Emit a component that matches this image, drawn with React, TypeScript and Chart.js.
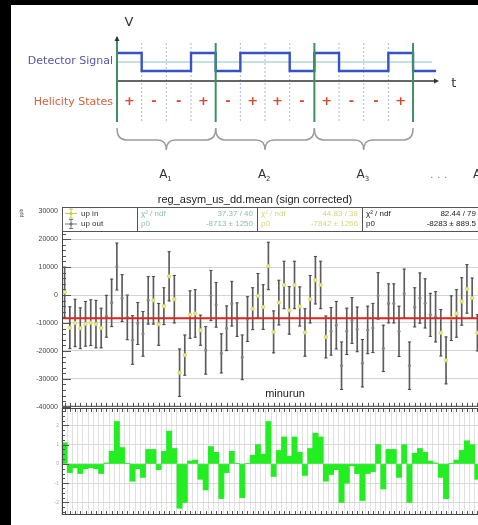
import React, { useEffect, useRef } from "react";
import { Chart, registerables } from "chart.js";

Chart.register(...registerables);

// ---------------- Helicity diagram data ----------------
const helicityStates = ["+", "-", "-", "+", "-", "+", "+", "-", "+", "-", "-", "+"];
const patternSubscripts = ["1", "2", "3"];
const windowsPerPattern = 4;

// ---------------- Main plot data ----------------
const plotTitle = "reg_asym_us_dd.mean (sign corrected)";
const xAxisTitle = "minurun";
const yAxisTitle = "ppb";
const yTickValues = [-40000, -30000, -20000, -10000, 0, 10000, 20000, 30000];

const asymValues = [
  1000, -11700, -10000, -11900, -10300, -9900, -10400, -11800, -7600, -2800,
  10200, -1100, -8000, -16100, -10200, -13900, -1900, -1900, -10500, -4000,
  6700, -1500, -27800, -21500, -7000, -6600, -12600, -19800, -200, -3500,
  -20900, -11900, -3100, -8800, -22300, -8600, -4900, -300, -4300, 10400,
  -13200, -2700, 3600, -5500, 3600, -4100, -13400, -1500, 5300, 3600,
  -15000, -13000, -10800, -25300, -13000, -9100, -12300, -24400, -12500, -11800,
  -300, -19100, -3000, -3000, -13000, 500, -25300, -4400, -1100, -3000,
  -7100, -7800, -13500, -23400, -8300, -6600, -2300, 2200, -1100, -13500,
];
const asymErrors = [
  9000, 7500, 8500, 7300, 8000, 8200, 8500, 7100, 7500, 8500,
  8400, 8400, 8000, 8700, 7500, 8000, 8500, 8500, 7500, 6600,
  8800, 8500, 8500, 7200, 8500, 8500, 5400, 8500, 9000, 8000,
  7000, 8000, 8000, 6000, 8000, 8000, 7500, 8000, 8000, 8500,
  7500, 8000, 8500, 8500, 8500, 7000, 8500, 8500, 8500, 8500,
  7500, 8500, 8500, 8500, 8300, 8200, 8000, 8500, 8500, 8800,
  8300, 8300, 7000, 7000, 9000, 8800, 8500, 7000, 9000, 8800,
  7700, 9000, 8300, 8400, 8000, 8500, 8500, 8700, 7200, 6500,
];
// I = "up in", O = "up out"
const slugGroups = [
  "IIIIIIII",
  "OOOOOOOOO",
  "IIIIIIIIII",
  "OOOOOOOOO",
  "IIIIIIIIIIIIIII",
  "OOOOOOOOOOOOOOOOOOOOO",
  "IIIIIIII",
].join("").split("");

const combinedP0 = -8283;
const legendLabels = ["up in", "up out"];
const statsIn = { chi2: "37.37 / 40", p0: "-8713 ± 1250" };
const statsOut = { chi2: "44.83 / 38", p0: "-7842 ± 1266" };
const statsAll = { chi2: "82.44 / 79", p0: "-8283 ± 889.5" };

// ---------------- Pull histogram data ----------------
const pullValues = [
  1.1, -0.45, -0.2, -0.5, -0.25, -0.2, -0.25, -0.5, 0.05, 0.65,
  2.2, 0.85, 0.03, -0.9, -0.25, -0.7, 0.75, 0.75, -0.3, 0.65,
  1.7, 0.8, -2.3, -2.0, 0.15, 0.2, -0.8, -1.35, 0.9, 0.6,
  -1.8, -0.45, 0.65, 0.03, -1.75, 0.03, 0.45, 1.0, 0.5, 2.2,
  -0.65, 0.7, 1.4, 0.4, 1.4, 0.6, -0.6, 0.8, 1.6, 1.4,
  -0.9, -0.55, -0.3, -2.0, -1.0, -0.1, -0.5, -1.9, -0.5, -0.4,
  1.0, -1.3, 0.75, 0.75, -0.7, 1.0, -2.0, 0.55, 0.8, 0.6,
  0.15, 0.05, -0.7, -1.8, 0.03, 0.2, 0.7, 1.2, 1.0, -0.8,
];
const pullTicks = [-2, -1, 0, 1, 2];

const runLabels = asymValues.map((_, i) => String(i + 1));

const ROOT_FONT = "'Liberation Sans', Arial, sans-serif";
const DIAG_FONT = "'DejaVu Sans', sans-serif";

// ---------------- Diagram chart ----------------
function diagramConfig(): any {
  const lvl = (s: string) => (s === "+" ? 1 : 0);
  const signal: any[] = helicityStates.map((s, i) => ({ x: i, y: lvl(s) }));
  signal.push({ x: helicityStates.length, y: 0 });
  signal.push({ x: 12.93, y: 0 });

  const datasets: any[] = [];
  for (let k = 0; k <= helicityStates.length; k += windowsPerPattern) {
    datasets.push({
      data: [{ x: k, y: k === 0 ? 1.89 : 1.556 }, { x: k, y: -2.83 }],
      borderColor: "#3f8f62", borderWidth: 2, showLine: true, pointRadius: 0, order: 1,
    });
  }
  datasets.push({
    data: signal, stepped: "before", borderColor: "#3553c4", borderWidth: 2.4,
    showLine: true, pointRadius: 0, order: 2,
  });
  datasets.push({
    data: [{ x: 0, y: -0.56 }, { x: 12.97, y: -0.56 }],
    borderColor: "#333", borderWidth: 1.5, showLine: true, pointRadius: 0, order: 3,
  });
  datasets.push({
    data: [{ x: 0, y: 0.5 }, { x: 12.77, y: 0.5 }],
    borderColor: "#8cc2c0", borderWidth: 1, showLine: true, pointRadius: 0, order: 4,
  });
  for (let u = 1; u < helicityStates.length; u++) {
    if (u % windowsPerPattern === 0) continue;
    datasets.push({
      data: [{ x: u, y: 1.556 }, { x: u, y: -2.83 }],
      borderColor: "#aab9d4", borderWidth: 1, borderDash: [2, 2],
      showLine: true, pointRadius: 0, order: 5,
    });
  }

  const decor = {
    id: "diagDecor",
    afterDraw(chart: any) {
      const { ctx } = chart;
      const X = (u: number) => chart.scales.x.getPixelForValue(u);
      const Y = (v: number) => chart.scales.y.getPixelForValue(v);
      ctx.save();
      ctx.fillStyle = "#333";
      ctx.beginPath();
      ctx.moveTo(X(0) - 2.5, Y(1.89) + 4);
      ctx.lineTo(X(0) + 2.5, Y(1.89) + 4);
      ctx.lineTo(X(0), Y(1.89) - 1);
      ctx.fill();
      ctx.beginPath();
      ctx.moveTo(X(12.97) - 3, Y(-0.56) - 2.5);
      ctx.lineTo(X(12.97) - 3, Y(-0.56) + 2.5);
      ctx.lineTo(X(12.97) + 2, Y(-0.56));
      ctx.fill();

      ctx.textBaseline = "middle";
      ctx.fillStyle = "#333";
      ctx.font = `13px ${DIAG_FONT}`;
      ctx.textAlign = "left";
      ctx.fillText("V", X(0.3), Y(2.67));
      ctx.fillText("t", X(13.55), Y(-0.68));

      ctx.textAlign = "right";
      ctx.font = `11px ${DIAG_FONT}`;
      ctx.fillStyle = "#5656a6";
      ctx.fillText("Detector Signal", X(-0.16), Y(0.56));
      ctx.fillStyle = "#d4623c";
      ctx.fillText("Helicity States", X(-0.16), Y(-1.72));

      ctx.textAlign = "center";
      ctx.fillStyle = "#d9482c";
      ctx.font = `bold 13px ${DIAG_FONT}`;
      helicityStates.forEach((s, i) => {
        ctx.fillText(s, X(i + 0.5), Y(-1.72));
      });

      ctx.strokeStyle = "#9a9a9a";
      ctx.lineWidth = 1.4;
      for (let p = 0; p < patternSubscripts.length; p++) {
        const x1 = X(p * windowsPerPattern), x2 = X((p + 1) * windowsPerPattern);
        const xc = (x1 + x2) / 2;
        const yt = Y(-3.17), ym = Y(-3.83), yp = Y(-4.39);
        const r = 9;
        ctx.beginPath();
        ctx.moveTo(x1, yt);
        ctx.quadraticCurveTo(x1, ym, x1 + r, ym);
        ctx.lineTo(xc - r, ym);
        ctx.quadraticCurveTo(xc, ym, xc, yp);
        ctx.quadraticCurveTo(xc, ym, xc + r, ym);
        ctx.lineTo(x2 - r, ym);
        ctx.quadraticCurveTo(x2, ym, x2, yt);
        ctx.stroke();
      }

      ctx.fillStyle = "#333";
      patternSubscripts.forEach((sub, p) => {
        const cx = X(p * windowsPerPattern + 2) - 3;
        ctx.font = `12px ${DIAG_FONT}`;
        ctx.textAlign = "center";
        ctx.fillText("A", cx, Y(-5.78));
        ctx.font = `7px ${DIAG_FONT}`;
        ctx.textAlign = "left";
        ctx.fillText(sub, cx + 4, Y(-5.78) + 4);
      });
      ctx.font = `11px ${DIAG_FONT}`;
      ctx.textAlign = "left";
      ctx.fillStyle = "#888";
      ctx.fillText(". . .", X(12.69), Y(-5.78));
      ctx.fillStyle = "#333";
      ctx.font = `12px ${DIAG_FONT}`;
      ctx.fillText("A", X(14.43), Y(-5.78));
      ctx.restore();
    },
  };

  return {
    type: "scatter",
    data: { datasets },
    options: {
      responsive: false, animation: false, devicePixelRatio: 1,
      layout: { padding: 0 },
      plugins: { legend: { display: false }, tooltip: { enabled: false } },
      scales: {
        x: { type: "linear", min: -4.743, max: 14.633, display: false },
        y: { type: "linear", min: -6.611, max: 3.944, display: false },
      },
    },
    plugins: [decor],
  };
}

// ---------------- Main asymmetry chart ----------------
function mainConfig(): any {
  const lo = asymValues.map((v, i) => v - asymErrors[i]);
  const hi = asymValues.map((v, i) => v + asymErrors[i]);
  const inVals = asymValues.map((v, i) => (slugGroups[i] === "I" ? v : null));
  const outVals = asymValues.map((v, i) => (slugGroups[i] === "O" ? v : null));

  const decor = {
    id: "mainDecor",
    afterDatasetsDraw(chart: any) {
      const { ctx, chartArea: a } = chart;
      const yp = chart.scales.y.getPixelForValue(combinedP0);
      ctx.save();
      ctx.strokeStyle = "#e3221b";
      ctx.lineWidth = 2;
      ctx.beginPath();
      ctx.moveTo(a.left, yp);
      ctx.lineTo(a.right, yp);
      ctx.stroke();
      ctx.restore();
    },
    afterDraw(chart: any) {
      const { ctx, chartArea: a } = chart;
      const ys = chart.scales.y, xs = chart.scales.x;
      ctx.save();
      ctx.strokeStyle = "#555";
      ctx.lineWidth = 1;
      for (let v = -40000; v <= 30000; v += 2000) {
        const yy = Math.round(ys.getPixelForValue(v)) + 0.5;
        const len = v % 10000 === 0 ? 9 : 4;
        ctx.beginPath();
        ctx.moveTo(a.left, yy);
        ctx.lineTo(a.left + len, yy);
        ctx.stroke();
      }
      runLabels.forEach((_, i) => {
        const xx = Math.round(xs.getPixelForValue(i)) + 0.5;
        ctx.beginPath();
        ctx.moveTo(xx, a.bottom);
        ctx.lineTo(xx, a.bottom - 4);
        ctx.stroke();
      });
      ctx.strokeStyle = "#444";
      ctx.strokeRect(a.left + 0.5, a.top + 0.5, a.width - 1, a.height - 1);

      const widths = [75, 120, 105, 118];
      const bh = 24;
      let bx = a.left;
      const boxX: number[] = [];
      widths.forEach((w) => {
        boxX.push(bx);
        ctx.fillStyle = "#fff";
        ctx.fillRect(bx, a.top, w, bh);
        ctx.strokeStyle = "#555";
        ctx.strokeRect(bx + 0.5, a.top + 0.5, w, bh);
        bx += w;
      });
      const r1 = a.top + 6.5, r2 = a.top + 17;
      const icon = (cx: number, cy: number, col: string) => {
        ctx.strokeStyle = col;
        ctx.fillStyle = col;
        ctx.lineWidth = 1;
        ctx.beginPath();
        ctx.moveTo(cx - 6, cy); ctx.lineTo(cx + 6, cy);
        ctx.moveTo(cx, cy - 4.5); ctx.lineTo(cx, cy + 4.5);
        ctx.moveTo(cx - 2, cy - 4.5); ctx.lineTo(cx + 2, cy - 4.5);
        ctx.moveTo(cx - 2, cy + 4.5); ctx.lineTo(cx + 2, cy + 4.5);
        ctx.stroke();
        ctx.beginPath(); ctx.arc(cx, cy, 1.6, 0, Math.PI * 2); ctx.fill();
      };
      icon(boxX[0] + 9, r1, "#c8c84a");
      icon(boxX[0] + 9, r2, "#777");
      ctx.font = `8px ${ROOT_FONT}`;
      ctx.textBaseline = "middle";
      ctx.textAlign = "left";
      ctx.fillStyle = "#333";
      ctx.fillText(legendLabels[0], boxX[0] + 19, r1);
      ctx.fillText(legendLabels[1], boxX[0] + 19, r2);
      const stat = (i: number, s: any, col: string) => {
        ctx.fillStyle = col;
        ctx.textAlign = "left";
        ctx.fillText("χ² / ndf", boxX[i] + 4, r1);
        ctx.fillText("p0", boxX[i] + 4, r2);
        ctx.textAlign = "right";
        ctx.fillText(s.chi2, boxX[i] + widths[i] - 4, r1);
        ctx.fillText(s.p0, boxX[i] + widths[i] - 4, r2);
      };
      stat(1, statsIn, "#8dbda9");
      stat(2, statsOut, "#d6d67a");
      stat(3, statsAll, "#222");

      ctx.fillStyle = "#222";
      ctx.textAlign = "center";
      ctx.font = `11px ${ROOT_FONT}`;
      ctx.fillText(plotTitle, 255, a.top - 7);
      ctx.fillText(xAxisTitle, 285, a.bottom - 13);
      ctx.save();
      ctx.translate(22, a.top + 6);
      ctx.rotate(-Math.PI / 2);
      ctx.font = `5px ${ROOT_FONT}`;
      ctx.fillStyle = "#555";
      ctx.fillText(yAxisTitle, 0, 0);
      ctx.restore();
      ctx.restore();
    },
  };

  return {
    type: "bar",
    data: {
      labels: runLabels,
      datasets: [
        {
          type: "line", data: inVals, showLine: false, pointStyle: "circle",
          pointRadius: 1.7, pointBackgroundColor: "#eeee88", pointBorderColor: "#cfcf55",
          pointBorderWidth: 0.8, order: 1,
        },
        {
          type: "line", data: outVals, showLine: false, pointStyle: "circle",
          pointRadius: 1.3, pointBackgroundColor: "#8a8a8a", pointBorderColor: "#777",
          pointBorderWidth: 0.5, order: 1,
        },
        {
          type: "line", data: hi, showLine: false, pointStyle: "line",
          pointRadius: 1.6, pointBorderColor: "#4a4a4a", pointBorderWidth: 1, order: 2,
        },
        {
          type: "line", data: lo, showLine: false, pointStyle: "line",
          pointRadius: 1.6, pointBorderColor: "#4a4a4a", pointBorderWidth: 1, order: 2,
        },
        {
          type: "bar", data: lo.map((l, i) => [l, hi[i]]), backgroundColor: "#5c5c5c",
          barThickness: 1, grouped: false, order: 3,
        },
      ],
    },
    options: {
      responsive: false, animation: false, devicePixelRatio: 1,
      layout: { padding: { left: 0, top: 17, right: 10, bottom: 7 } },
      plugins: { legend: { display: false }, tooltip: { enabled: false }, title: { display: false } },
      scales: {
        x: { type: "category", offset: true, display: false, grid: { display: false } },
        y: {
          min: -40000, max: 31500,
          afterFit(s: any) { s.width = 62; },
          afterBuildTicks(s: any) { s.ticks = yTickValues.map((v) => ({ value: v })); },
          ticks: {
            color: "#444", font: { size: 7, family: ROOT_FONT }, padding: 4,
            callback: (v: any) => String(v),
          },
          grid: { color: "#d4d4d4", drawTicks: false, lineWidth: 1 },
          border: { display: false },
        },
      },
    },
    plugins: [decor],
  };
}

// ---------------- Pull histogram chart ----------------
function histConfig(): any {
  const decor = {
    id: "histDecor",
    afterDraw(chart: any) {
      const { ctx, chartArea: a } = chart;
      const ys = chart.scales.y, xs = chart.scales.x;
      ctx.save();
      ctx.strokeStyle = "#555";
      ctx.lineWidth = 1;
      for (let v = -2.5; v <= 2.75; v += 0.25) {
        const yy = Math.round(ys.getPixelForValue(v)) + 0.5;
        const len = Math.abs(v - Math.round(v)) < 1e-6 ? 7 : 3;
        ctx.beginPath();
        ctx.moveTo(a.left, yy);
        ctx.lineTo(a.left + len, yy);
        ctx.stroke();
      }
      runLabels.forEach((_, i) => {
        const xx = Math.round(xs.getPixelForValue(i)) + 0.5;
        ctx.beginPath();
        ctx.moveTo(xx, a.bottom); ctx.lineTo(xx, a.bottom - 4);
        ctx.moveTo(xx, a.top); ctx.lineTo(xx, a.top + 4);
        ctx.stroke();
      });
      ctx.strokeStyle = "#444";
      ctx.strokeRect(a.left + 0.5, a.top + 0.5, a.width - 1, a.height - 1);
      ctx.restore();
    },
  };
  return {
    type: "bar",
    data: {
      labels: runLabels,
      datasets: [
        {
          data: pullValues, backgroundColor: "#22ee22", borderWidth: 0,
          barPercentage: 1, categoryPercentage: 1,
        },
      ],
    },
    options: {
      responsive: false, animation: false, devicePixelRatio: 1,
      layout: { padding: { left: 0, top: 8, right: 10, bottom: 10 } },
      plugins: { legend: { display: false }, tooltip: { enabled: false } },
      scales: {
        x: {
          type: "category", offset: true,
          grid: { display: true, offset: true, color: "#e0e0e0", drawTicks: false },
          ticks: { display: false }, border: { display: false },
        },
        y: {
          min: -2.65, max: 2.9,
          afterFit(s: any) { s.width = 62; },
          afterBuildTicks(s: any) { s.ticks = pullTicks.map((v) => ({ value: v })); },
          ticks: {
            color: "#aaa", font: { size: 5, family: ROOT_FONT }, padding: 3,
            callback: (v: any) => String(v),
          },
          grid: { color: "#d8d8d8", drawTicks: false },
          border: { display: false },
        },
      },
    },
    plugins: [decor],
  };
}

export default function App() {
  const diagRef = useRef<HTMLCanvasElement>(null);
  const mainRef = useRef<HTMLCanvasElement>(null);
  const histRef = useRef<HTMLCanvasElement>(null);

  useEffect(() => {
    const charts = [
      new Chart(diagRef.current as HTMLCanvasElement, diagramConfig()),
      new Chart(mainRef.current as HTMLCanvasElement, mainConfig()),
      new Chart(histRef.current as HTMLCanvasElement, histConfig()),
    ];
    return () => charts.forEach((c) => c.destroy());
  }, []);

  return (
    <div style={{ position: "fixed", left: 0, top: 0, width: 478, height: 525, background: "#000", overflow: "hidden" }}>
      <div style={{ position: "absolute", left: 11, top: 5, right: 0, bottom: 0, background: "#fff" }} />
      <canvas ref={diagRef} width={478} height={190} style={{ position: "absolute", left: 0, top: 0, width: 478, height: 190 }} />
      <canvas ref={mainRef} width={490} height={225} style={{ position: "absolute", left: 0, top: 190, width: 490, height: 225 }} />
      <canvas ref={histRef} width={490} height={125} style={{ position: "absolute", left: 0, top: 400, width: 490, height: 125 }} />
    </div>
  );
}
